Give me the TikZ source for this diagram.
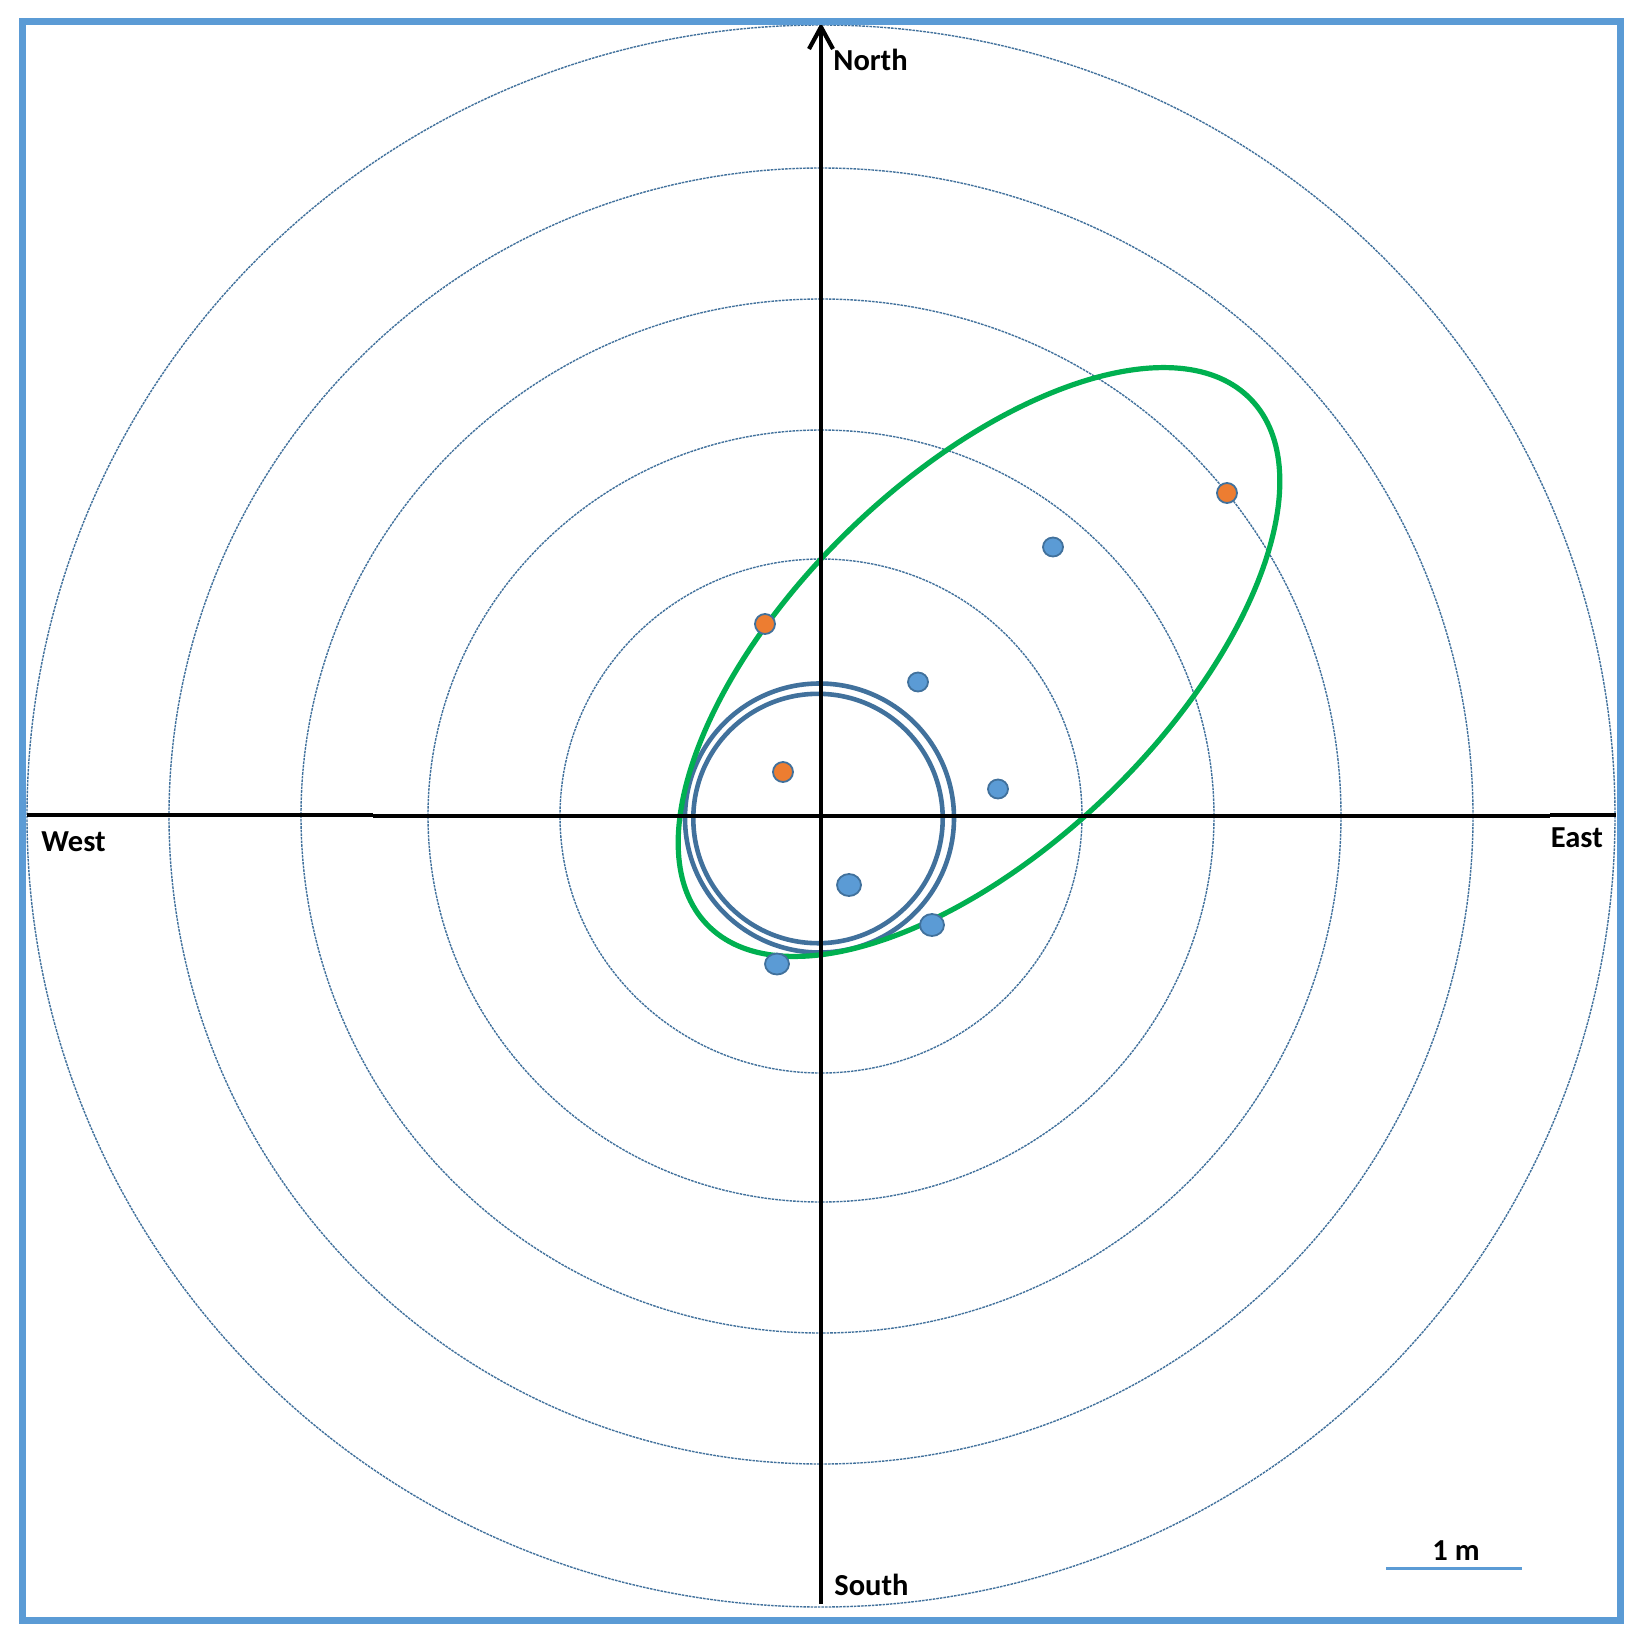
\documentclass[tikz,border=0pt]{standalone}
\usepackage{fontspec}
\setmainfont{Carlito}
\definecolor{ringblue}{RGB}{65,113,156}
\definecolor{dotblue}{RGB}{91,155,213}
\definecolor{dotorange}{RGB}{237,125,49}
\definecolor{ellgreen}{RGB}{0,176,80}
\definecolor{frameblue}{RGB}{91,155,213}
\tikzset{
  gridring/.style={draw=ringblue, line width=0.7pt, dash pattern=on 1.3pt off 0.5pt},
  thickring/.style={draw=ringblue, line width=2.3pt},
  axisline/.style={draw=black, line width=2.1pt},
  bluedot/.style={fill=dotblue, draw=ringblue, line width=0.9pt},
  orangedot/.style={fill=dotorange, draw=ringblue, line width=0.9pt},
  dirlabel/.style={inner sep=0pt, anchor=base west, font=\fontsize{15.25pt}{18pt}\selectfont\bfseries},
}
\begin{document}
\begin{tikzpicture}[x=0.5pt, y=-0.5pt]
\useasboundingbox (0,0) rectangle (1644,1644);
\fill[white] (0,0) rectangle (1644,1644);
\coordinate (c) at (821,816);
% dotted grid circles
\foreach \rx/\ry in {261/257,393/386,520/517,652/648,794/791}
  \draw[gridring] (c) ellipse [x radius=\rx, y radius=\ry];
% double ring
\draw[thickring] (819.5,818) circle [radius=134.5];
\draw[thickring] (818,818.5) circle [radius=124.7];
% green ellipse
\begin{scope}[shift={(979,662)}, rotate=44]
  \draw[ellgreen, line width=2.6pt] (0,0) ellipse [x radius=378, y radius=185];
\end{scope}
% axes
\draw[axisline] (27,815) -- (373,815);
\draw[axisline] (373,816) -- (1550,816);
\draw[axisline] (1550,815) -- (1616,815);
\coordinate (ntip) at (821,27);
\coordinate (sbot) at (821,1604);
\draw[axisline] (sbot) -- (ntip);
\draw[axisline, line join=miter] (809,49) -- (ntip) -- (833,49);
% dots
\draw[orangedot] (1227,493) ellipse [x radius=10, y radius=10];
\draw[orangedot] (765,624) ellipse [x radius=10, y radius=10];
\draw[orangedot] (783,772) ellipse [x radius=10, y radius=10];
\draw[bluedot] (1053,547) ellipse [x radius=10, y radius=9.5];
\draw[bluedot] (918,682) ellipse [x radius=10, y radius=9.5];
\draw[bluedot] (998,789) ellipse [x radius=10, y radius=9.5];
\draw[bluedot] (849,885) ellipse [x radius=12, y radius=11];
\draw[bluedot] (932,925) ellipse [x radius=12, y radius=11];
\draw[bluedot] (777,964) ellipse [x radius=12, y radius=10.5];
% labels
\node[dirlabel] (north) at (833,70) {North};
\node[dirlabel] (west) at (41,851.5) {West};
\node[dirlabel] (east) at (1550.5,847.5) {East};
\node[dirlabel] (south) at (834,1595) {South};
\node[dirlabel] (scale) at (1432,1560) {1 m};
% scale bar
\draw[frameblue, line width=1.35pt] (1386,1568.5) -- (1522,1568.5);
% frame
\draw[frameblue, line width=3.5pt] (22,21.5) rectangle (1620,1620);
\end{tikzpicture}
\end{document}
